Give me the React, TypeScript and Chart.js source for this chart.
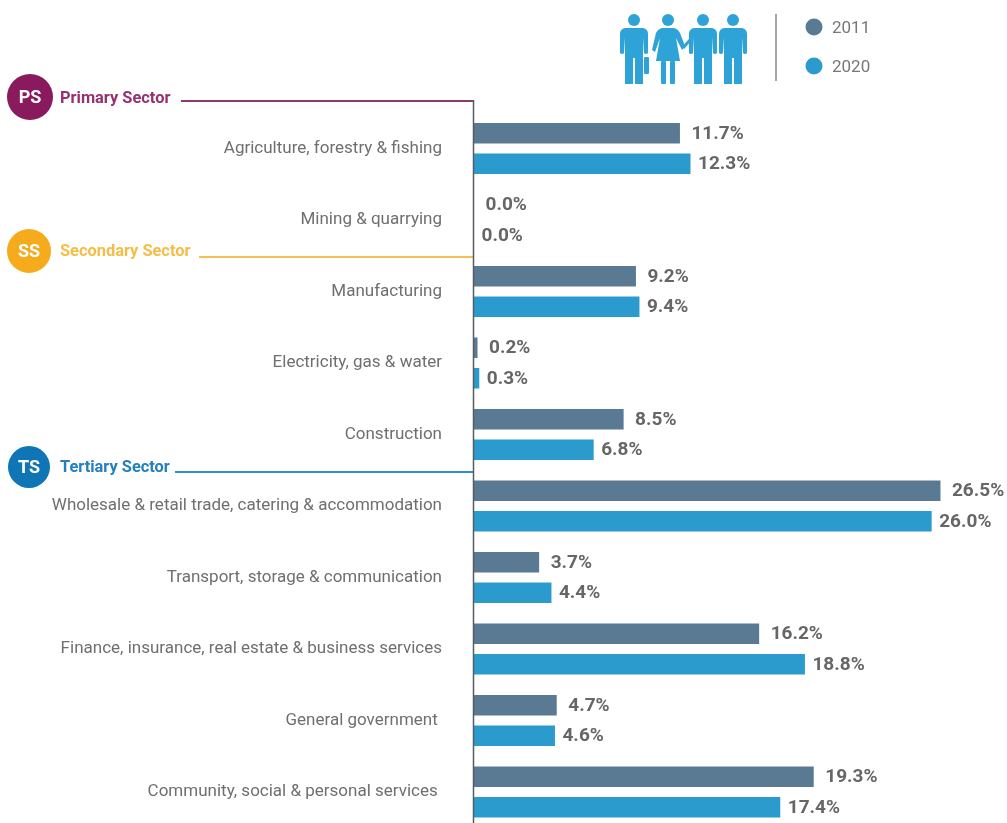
import React, { useEffect, useRef } from "react";
import { Chart, registerables } from "chart.js";

Chart.register(...registerables);

const categories = [
  "Agriculture, forestry & fishing",
  "Mining & quarrying",
  "Manufacturing",
  "Electricity, gas & water",
  "Construction",
  "Wholesale & retail trade, catering & accommodation",
  "Transport, storage & communication",
  "Finance, insurance, real estate & business services",
  "General government\u00a0",
  "Community, social & personal services\u00a0",
];
const values2011 = [11.7, 0.0, 9.2, 0.2, 8.5, 26.5, 3.7, 16.2, 4.7, 19.3];
const values2020 = [12.3, 0.0, 9.4, 0.3, 6.8, 26.0, 4.4, 18.8, 4.6, 17.4];
const seriesNames = ["2011", "2020"];
const sectorNames = ["Primary Sector", "Secondary Sector", "Tertiary Sector"];
const sectorCodes = ["PS", "SS", "TS"];

const COLOR_2011 = "#5a7a94";
const COLOR_2020 = "#2b9bcd";
const FONT = "Roboto";

const decorPlugin = {
  id: "decor",
  afterDatasetsDraw(chart: any) {
    const { ctx, scales } = chart;
    const axisX = scales.x.getPixelForValue(0);

    ctx.save();
    ctx.font = `700 19px ${FONT}`;
    ctx.fillStyle = "#666666";
    ctx.textAlign = "left";
    ctx.textBaseline = "middle";
    chart.data.datasets.forEach((ds: any, di: number) => {
      const meta = chart.getDatasetMeta(di);
      meta.data.forEach((bar: any, i: number) => {
        const gap = di === 0 ? 11.5 : 7.5;
        ctx.fillText(`${ds.data[i].toFixed(1)}%`, bar.x + gap, bar.y + 0.5);
      });
    });
    ctx.restore();

    const sectors = [
      { cx: 30, cy: 97, r: 23, fill: "#8a1a5e", text: "#96306f", line: "#8f3a6e", tx: 60, ty: 98.5, lx: 181, ly: 101 },
      { cx: 29, cy: 251, r: 22, fill: "#f5ab1b", text: "#f6bd45", line: "#f6c050", tx: 60, ty: 252, lx: 199, ly: 257 },
      { cx: 29, cy: 467, r: 21, fill: "#0f75b5", text: "#2280bd", line: "#2f8fc8", tx: 60, ty: 468, lx: 175, ly: 472 },
    ];
    ctx.save();
    sectors.forEach((s, i) => {
      ctx.strokeStyle = s.line;
      ctx.lineWidth = 2;
      ctx.beginPath();
      ctx.moveTo(s.lx, s.ly);
      ctx.lineTo(axisX, s.ly);
      ctx.stroke();

      ctx.fillStyle = s.fill;
      ctx.beginPath();
      ctx.arc(s.cx, s.cy, s.r, 0, Math.PI * 2);
      ctx.fill();

      ctx.fillStyle = "#ffffff";
      ctx.font = `700 18px ${FONT}`;
      ctx.textAlign = "center";
      ctx.textBaseline = "middle";
      ctx.fillText(sectorCodes[i], s.cx, s.cy + 1);

      ctx.fillStyle = s.text;
      ctx.font = `700 16.4px ${FONT}`;
      ctx.textAlign = "left";
      ctx.fillText(sectorNames[i], s.tx, s.ty);
    });
    ctx.strokeStyle = "#555c66";
    ctx.lineWidth = 1.5;
    ctx.beginPath();
    ctx.moveTo(axisX - 0.5, 100);
    ctx.lineTo(axisX - 0.5, 823);
    ctx.stroke();

    ctx.strokeStyle = "#8a8a8a";
    ctx.lineWidth = 1.5;
    ctx.beginPath();
    ctx.moveTo(776, 14);
    ctx.lineTo(776, 81);
    ctx.stroke();
    const rows = [27, 66];
    chart.data.datasets.forEach((ds: any, di: number) => {
      ctx.fillStyle = ds.backgroundColor;
      ctx.beginPath();
      ctx.arc(814, rows[di], 8.5, 0, Math.PI * 2);
      ctx.fill();
      ctx.fillStyle = "#777777";
      ctx.font = `400 17px ${FONT}`;
      ctx.textAlign = "left";
      ctx.textBaseline = "middle";
      ctx.fillText(ds.label, 832, rows[di] + 1.5);
    });
    ctx.restore();
  },
};

function People() {
  const c = "#2ea3d8";
  const man = (x: number, key: string, extra?: React.ReactNode) => (
    <g key={key} fill={c}>
      <circle cx={x} cy={20} r={6} />
      <path
        d={`M${x - 9} 28 L${x + 9} 28 Q${x + 14} 29 ${x + 14} 34 L${x + 14} 53 Q${x + 12} 55 ${x + 10} 53 L${x + 9} 37 L${x + 9} 84 L${x + 1} 84 L${x + 1} 58 L${x - 1} 58 L${x - 1} 84 L${x - 9} 84 L${x - 9} 37 L${x - 10} 53 Q${x - 12} 55 ${x - 14} 53 L${x - 14} 34 Q${x - 14} 29 ${x - 9} 28 Z`}
      />
      {extra}
    </g>
  );
  return (
    <svg width={1007} height={100} style={{ position: "absolute", left: 0, top: 0, pointerEvents: "none" }}>
      {man(634, "a", <rect x={644} y={57} width={5} height={17} rx={1} />)}
      <g fill={c}>
        <circle cx={668} cy={20} r={6} />
        <path d="M662 28 L674 28 Q678 29 680 33 L685 46 L682 50 L676 38 L680 61 L656 61 L660 38 L655 52 L652 50 L656 33 Q658 29 662 28 Z" />
        <rect x={661} y={61} width={5} height={23} rx={1} />
        <rect x={670} y={61} width={5} height={23} rx={1} />
      </g>
      {man(703, "c")}
      <path d="M683 48 L690 40" stroke={c} strokeWidth={3} />
      {man(733, "d")}
    </svg>
  );
}

export default function App() {
  const ref = useRef<HTMLCanvasElement>(null);
  useEffect(() => {
    const chart = new Chart(ref.current!, {
      type: "bar",
      data: {
        labels: categories,
        datasets: [
          { label: seriesNames[0], data: values2011, backgroundColor: COLOR_2011, categoryPercentage: 0.854, barPercentage: 0.672 },
          { label: seriesNames[1], data: values2020, backgroundColor: COLOR_2020, categoryPercentage: 0.854, barPercentage: 0.672 },
        ],
      },
      options: {
        indexAxis: "y",
        animation: false,
        responsive: false,
        layout: { padding: { top: 112.8, left: 0, right: 0, bottom: 0 } },
        plugins: { legend: { display: false }, tooltip: { enabled: false } },
        scales: {
          x: { display: false, min: 0, max: 30.28 },
          y: {
            afterFit(scale: any) {
              scale.width = 474;
            },
            grid: { display: false, drawTicks: false },
            border: { display: false },
            ticks: {
              autoSkip: false,
              padding: 32,
              color: "#6f6f6f",
              font: { family: FONT, size: 17, weight: 400 },
            },
          },
        },
      },
      plugins: [decorPlugin],
    });
    return () => chart.destroy();
  }, []);
  return (
    <div style={{ position: "absolute", left: 0, top: 0, width: 1007, height: 823, overflow: "hidden", background: "#fff" }}>
      <canvas ref={ref} width={1007} height={870} style={{ display: "block" }} />
      <People />
    </div>
  );
}
